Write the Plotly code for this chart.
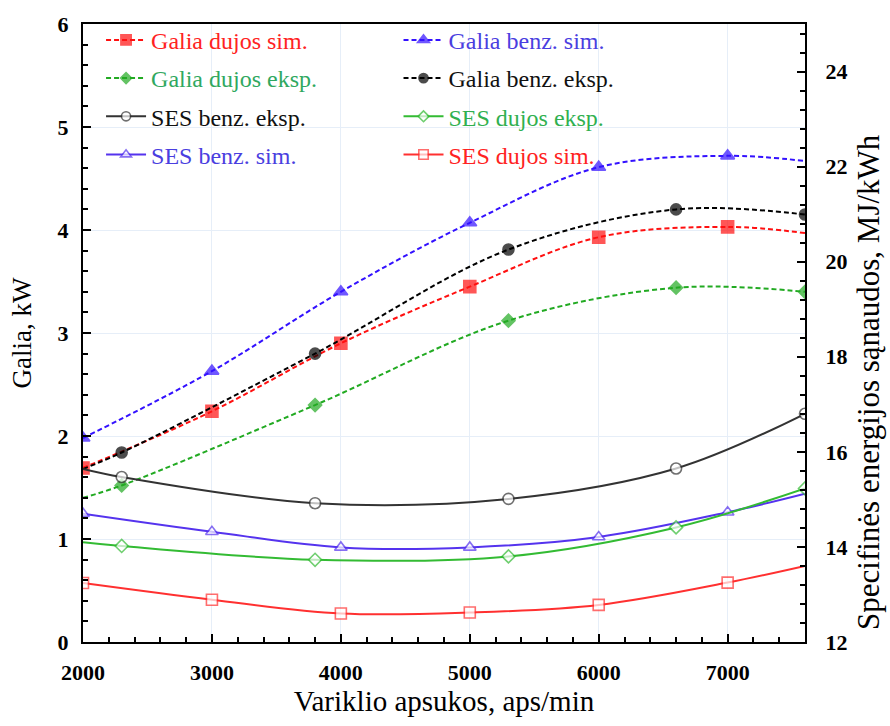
import plotly.graph_objects as go

# Engine speed points
rpm_sim = [2000, 3000, 4000, 5000, 6000, 7000, 7600]
rpm_exp = [2000, 2300, 3800, 5300, 6600, 7600]

# Power, kW (left axis)
galia_dujos_sim = [1.69, 2.24, 2.90, 3.45, 3.93, 4.03, 3.97]
galia_benz_sim = [1.98, 2.63, 3.40, 4.07, 4.61, 4.72, 4.67]
galia_dujos_eksp = [1.40, 1.52, 2.30, 3.12, 3.44, 3.40]
galia_benz_eksp = [1.68, 1.84, 2.80, 3.81, 4.20, 4.15]

# Specific energy consumption, MJ/kWh (right axis)
ses_benz_eksp = [15.64, 15.47, 14.92, 15.01, 15.65, 16.80]
ses_dujos_eksp = [14.10, 14.02, 13.73, 13.80, 14.41, 15.23]
ses_benz_sim = [14.70, 14.32, 13.99, 13.99, 14.21, 14.73, 15.12]
ses_dujos_sim = [13.24, 12.89, 12.60, 12.62, 12.78, 13.25, 13.60]

SERIF = "Liberation Serif, Times New Roman, serif"
RED = "#ff1010"
BLUE = "#3311ff"
SBLUE = "#5533ee"
GREEN = "#22aa22"
SGREEN = "#33bb33"
BLACK = "#000000"


def sizes(n, size, skip_first=False, skip_last=False):
    s = [size] * n
    if skip_first:
        s[0] = 0
    if skip_last:
        s[-1] = 0
    return s


def label(text, color):
    return f'<span style="color:{color}">{text}</span>'


fig = go.Figure()

series = [
    # name, text colour, x, y, axis, line colour, dash, symbol, fill, size, skip first, skip last, legend
    ("Galia dujos sim.", "#ff2222", rpm_sim, galia_dujos_sim, "y", RED, "dash", "square", RED, 12, False, True, "legend"),
    ("Galia dujos eksp.", "#30a860", rpm_exp, galia_dujos_eksp, "y", GREEN, "dash", "diamond", GREEN, 10, True, False, "legend"),
    ("SES benz. eksp.", "#111111", rpm_exp, ses_benz_eksp, "y2", "#333333", "solid", "circle", "white", 11, True, False, "legend"),
    ("SES benz. sim.", "#4a3ee0", rpm_sim, ses_benz_sim, "y2", SBLUE, "solid", "triangle-up", "white", 11, False, True, "legend"),
    ("Galia benz. sim.", "#4a3ee0", rpm_sim, galia_benz_sim, "y", BLUE, "dash", "triangle-up", BLUE, 12, False, True, "legend2"),
    ("Galia benz. eksp.", "#111111", rpm_exp, galia_benz_eksp, "y", BLACK, "dash", "circle", BLACK, 11, True, False, "legend2"),
    ("SES dujos eksp.", "#30b050", rpm_exp, ses_dujos_eksp, "y2", SGREEN, "solid", "diamond", "white", 10, True, False, "legend2"),
    ("SES dujos sim.", "#ff2222", rpm_sim, ses_dujos_sim, "y2", "#ff3030", "solid", "square", "white", 11, False, True, "legend2"),
]

for i, (name, tcol, xs, ys, ax, lcol, dash, sym, fill, sz, sf, sl, leg) in enumerate(series):
    fig.add_trace(go.Scatter(
        x=xs, y=ys, yaxis=ax, name=label(name, tcol),
        mode="lines+markers",
        line=dict(color=lcol, width=2, dash="5px,3px" if dash == "dash" else "solid",
                  shape="spline", smoothing=1.0),
        marker=dict(symbol=sym, size=sizes(len(xs), sz, sf, sl), color=fill,
                    line=dict(color=lcol, width=1.6)),
        legend=leg, legendgroup=f"g{i}",
    ))

axis_font = dict(family=SERIF, size=22, color="black", weight=700)

fig.update_layout(
    width=890, height=726,
    margin=dict(l=83, r=85, t=17, b=84),
    paper_bgcolor="white", plot_bgcolor="white",
    font=dict(family=SERIF, color="black"),
    xaxis=dict(
        range=[2000, 7600], dtick=1000, tick0=2000,
        showline=True, linecolor="black", linewidth=2, mirror=True,
        ticks="inside", ticklen=8, tickwidth=1.5, tickcolor="black",
        minor=dict(dtick=200, tick0=2000, ticks="inside", ticklen=5, tickcolor="black", showgrid=False),
        showgrid=True, gridcolor="#e6eef8", gridwidth=1,
        tickfont=axis_font, zeroline=False, ticklabelstandoff=10,
        title=dict(text="Variklio apsukos, aps/min", font=dict(family=SERIF, size=29, color="black"),
                   standoff=4),
    ),
    yaxis=dict(
        range=[0, 6], dtick=1,
        showline=True, linecolor="black", linewidth=2,
        ticks="inside", ticklen=8, tickwidth=1.5, tickcolor="black",
        minor=dict(dtick=0.2, ticks="inside", ticklen=5, tickcolor="black", showgrid=False),
        showgrid=True, gridcolor="#e6eef8", gridwidth=1,
        tickfont=axis_font, zeroline=False, ticklabelstandoff=8,
        title=dict(text="Galia, kW", font=dict(family=SERIF, size=27, color="black"), standoff=18),
    ),
    yaxis2=dict(
        range=[12, 25], dtick=2, tick0=12, overlaying="y", side="right",
        showline=True, linecolor="black", linewidth=2,
        ticks="inside", ticklen=8, tickwidth=1.5, tickcolor="black",
        minor=dict(dtick=0.4, tick0=12, ticks="inside", ticklen=5, tickcolor="black", showgrid=False),
        showgrid=False, tickfont=axis_font, zeroline=False, ticklabelstandoff=14,
    ),
    legend=dict(
        x=0.025, y=1.01, xanchor="left", yanchor="top",
        bgcolor="rgba(0,0,0,0)", font=dict(family=SERIF, size=24),
        itemwidth=40, tracegroupgap=4,
    ),
    legend2=dict(
        x=0.437, y=1.01, xanchor="left", yanchor="top",
        bgcolor="rgba(0,0,0,0)", font=dict(family=SERIF, size=24),
        itemwidth=40, tracegroupgap=4,
    ),
    annotations=[dict(
        text="Specifinės energijos sąnaudos, MJ/kWh",
        xref="paper", yref="paper", x=1.088, y=0.42,
        xanchor="center", yanchor="middle", textangle=-90, showarrow=False,
        font=dict(family=SERIF, size=31, color="black"),
    )],
)

fig.write_html("out.html")
